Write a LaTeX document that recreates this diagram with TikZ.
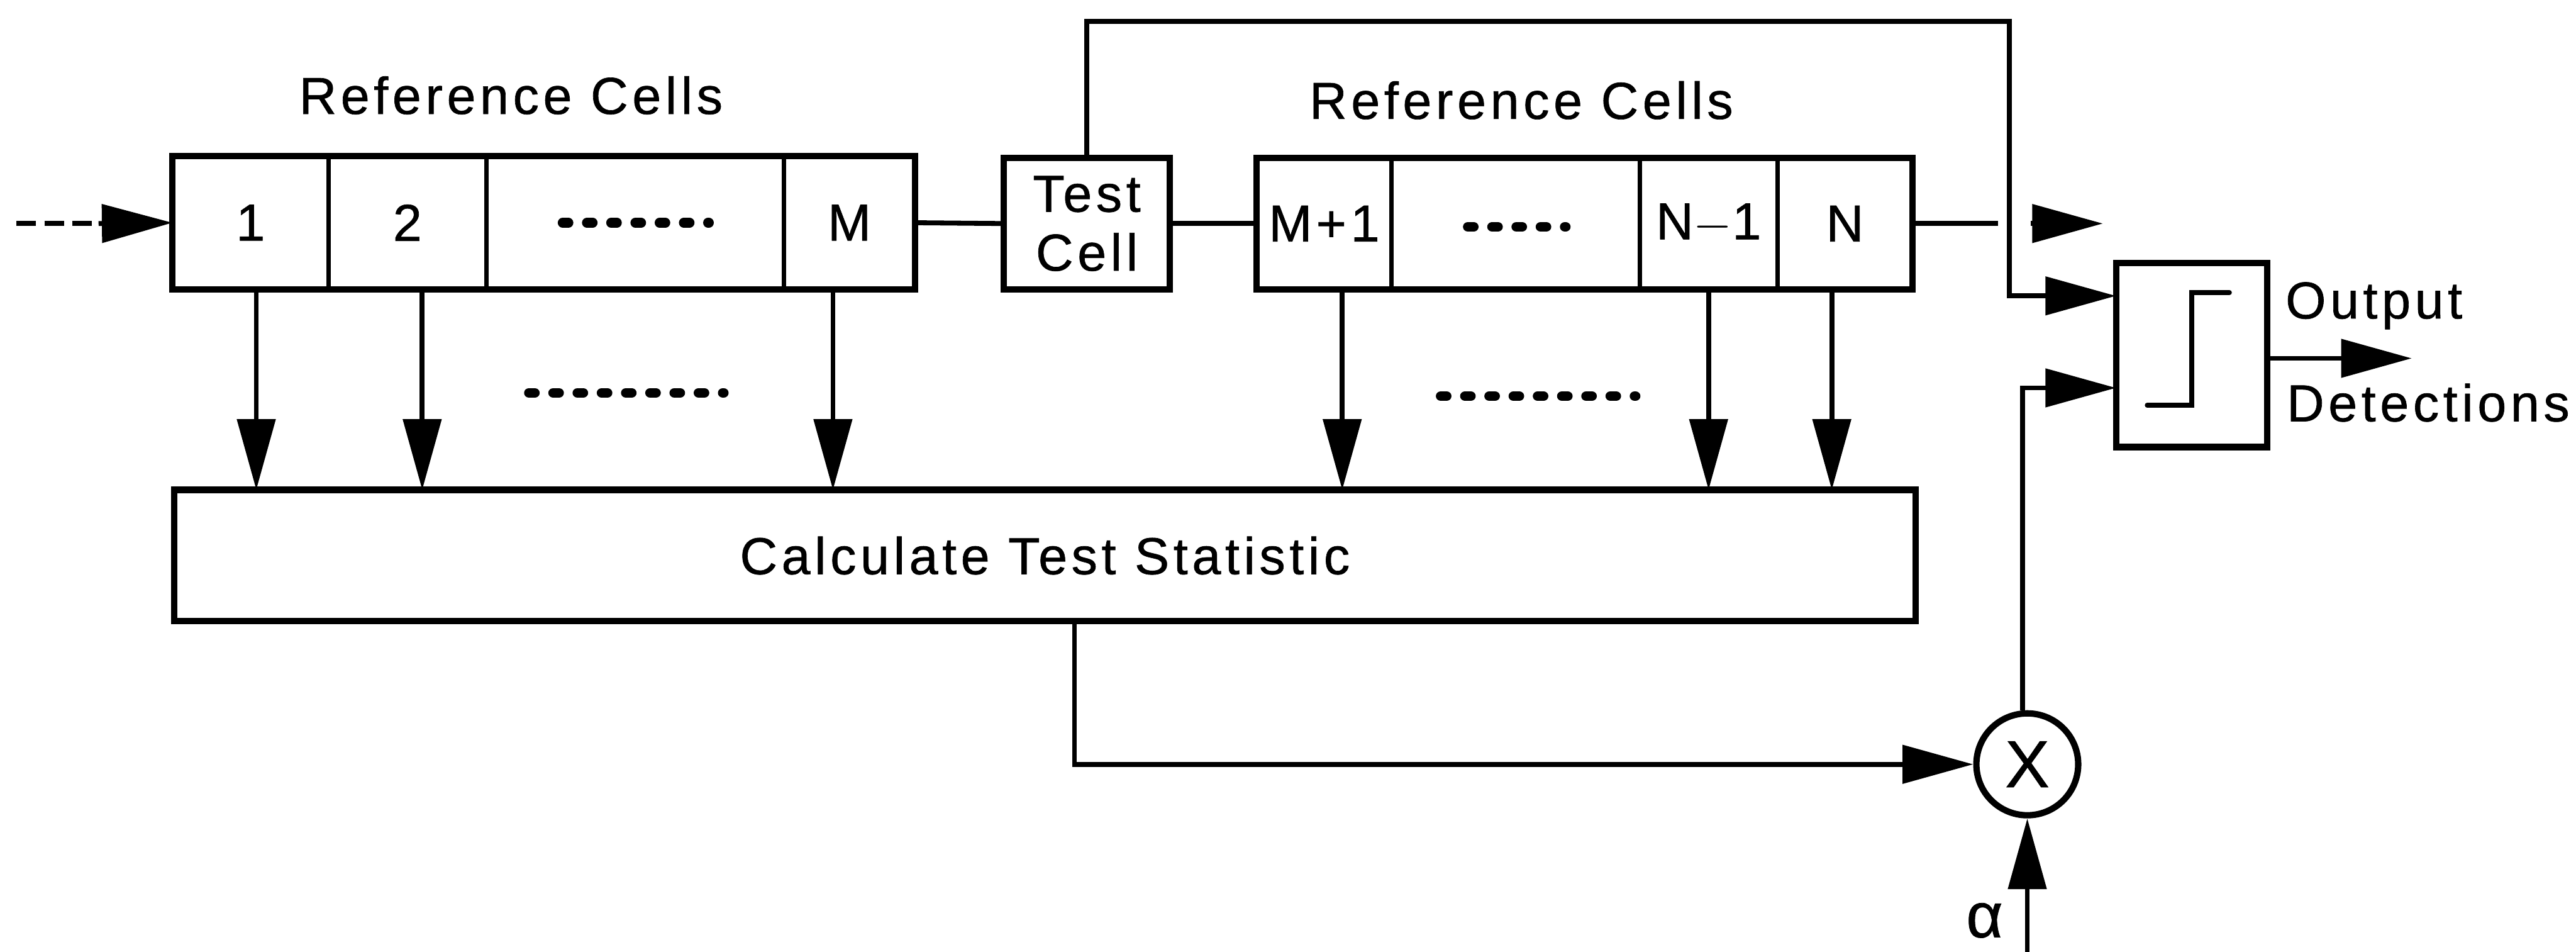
\documentclass[tikz,border=0pt]{standalone}
\usepackage{fontspec}
\setmainfont{Liberation Sans}[LetterSpace=8, FakeBold=0.8]
\usetikzlibrary{arrows.meta,calc}
\tikzset{
  lbl/.style={font=\fontsize{18}{20.4}\selectfont},
  cell/.style={draw, line width=1.5pt, inner sep=0pt, outer sep=0pt, minimum height=1.62cm, lbl},
  boxline/.style={line width=2.2pt},
  box/.style={draw, line width=2.2pt, inner sep=0pt, outer sep=0pt, lbl},
  conn/.style={line width=1.7pt},
  arr/.style={conn, -{Triangle[length=0.86cm, width=0.46cm]}},
  dotrow/.style={line width=0.12cm, line cap=round, dash pattern=on 0.07cm off 0.225cm},
}
\begin{document}
\begin{tikzpicture}[x=0.02cm, y=-0.02cm]
\useasboundingbox (0,0) rectangle (1568,579);

% left reference cells
\node[cell, minimum width=1.90cm] (c1)  at (152.5,135.5) {1};
\node[cell, minimum width=1.92cm] (c2)  at (248,135.5) {2};
\node[cell, minimum width=3.62cm] (cd1) at (386.5,135.5) {};
\node[cell, minimum width=1.60cm] (cM)  at (517,135.5) {M};
\draw[boxline] (c1.north west) rectangle (cM.south east);

% test cell
\node[box, minimum width=2.02cm, minimum height=1.6cm, align=center] (test) at (661.5,136) {Test\\Cell};

% right reference cells
\node[cell, minimum width=1.64cm, minimum height=1.6cm] (cM1) at (806,136) {M+1};
\node[cell, minimum width=3.02cm, minimum height=1.6cm] (cd2) at (922.5,136) {};
\node[cell, minimum width=1.68cm, minimum height=1.6cm] (cN1) at (1040,136) {N$-$1};
\node[cell, minimum width=1.64cm, minimum height=1.6cm] (cN)  at (1123,136) {N};
\draw[boxline] (cM1.north west) rectangle (cN.south east);

% titles
\node[lbl] (t1) at (311,58) {Reference Cells};
\node[lbl] (t2) at (926,61) {Reference Cells};

% dots
\draw[dotrow] ($(cd1.center)+(-44,0)$) -- ++(89,0);
\draw[dotrow] ($(cd2.center)+(-29,2)$) -- ++(59.5,0);
\draw[dotrow] (322,239) -- ++(118.5,0);
\draw[dotrow] (877,241) -- ++(118.5,0);

% calc box
\node[box, minimum width=21.2cm, minimum height=1.6cm] (calc) at (636,338) {Calculate Test Statistic};

% threshold box
\node[box, minimum width=1.84cm, minimum height=2.24cm] (thr) at (1334,216) {};
\draw[conn, line cap=round] ($(thr.center)+(-27,30.5)$) -- ++(27,0) -- ++(0,-68.5) -- ++(23,0);

% multiplier
\node[draw, circle, line width=2.2pt, minimum size=1.24cm, inner sep=0pt, font=\fontsize{23}{24}\selectfont] (mult) at (1234,465) {X};

% input
\coordinate (inA) at (10,136);
\coordinate (inB) at (60,136);
\draw[conn, dash pattern=on 0.24cm off 0.1cm] (inA) -- (inB);
\draw[arr] (inB) -- (c1.west);

% chain connections
\draw[conn] (cM.east) -- (test.west);
\draw[conn] (test.east) -- (cM1.west);

% down arrows
\draw[arr] ($(c1.south)+(3.5,0)$) -- ($(c1.south |- calc.north)+(3.5,0)$);
\draw[arr] ($(c2.south)+(9,0)$) -- ($(c2.south |- calc.north)+(9,0)$);
\draw[arr] ($(cM.south)+(-10,0)$) -- ($(cM.south |- calc.north)+(-10,0)$);
\draw[arr] ($(cM1.south)+(11,0)$) -- ($(cM1.south |- calc.north)+(11,0)$);
\draw[arr] (cN1.south) -- (cN1.south |- calc.north);
\draw[arr] ($(cN.south)+(-8,0)$) -- ($(cN.south |- calc.north)+(-8,0)$);

% feedback from test cell
\coordinate (fbT) at (1223,13);
\draw[arr] (test.north) |- (fbT) |- ($(thr.north west)+(0,20)$);

% N output with crossing gap
\coordinate (gapL) at (1216,136);
\coordinate (gapR) at (1236,136);
\coordinate (outN) at (1280,136);
\draw[conn] (cN.east) -- (gapL);
\draw[arr] (gapR) -- (outN);

% calc to multiplier
\draw[arr] ($(calc.south)+(18,0)$) |- (mult.west);

% multiplier to threshold
\draw[arr] ($(mult.north)+(-3,0)$) |- ($(thr.south west)+(0,-36)$);

% alpha
\coordinate (alphaIn) at (1234,590);
\draw[arr] (alphaIn) -- (mult.south);
\node[font=\fontsize{22}{22}\selectfont, inner sep=1pt] (alpha) at (1208,560) {α};

% output
\coordinate (outD) at (1468,218);
\draw[arr] ($(thr.east)+(0,2)$) -- (outD);
\node[lbl] (o1) at (1445,186) {Output};
\node[lbl] (o2) at (1478,245) {Detections};
\end{tikzpicture}
\end{document}
